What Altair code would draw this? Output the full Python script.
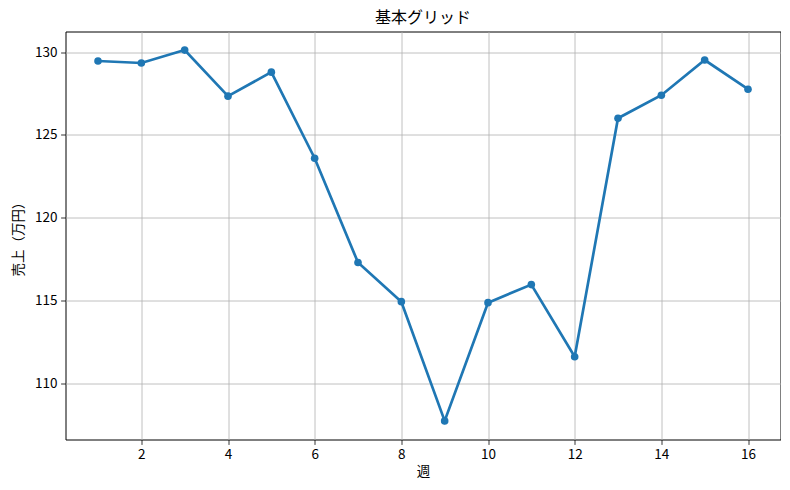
import altair as alt
import pandas as pd

weeks = list(range(1, 17))
sales = [129.46, 129.34, 130.12, 127.34, 128.79, 123.6, 117.31, 114.95,
         107.76, 114.89, 115.98, 111.63, 126.01, 127.40, 129.52, 127.76]

df = pd.DataFrame({"週": weeks, "売上": sales})

FONT = "Noto Sans CJK JP"
BLUE = "#1f77b4"

x = alt.X("週:Q", scale=alt.Scale(domain=[0.25, 16.75], nice=False, zero=False),
          axis=alt.Axis(title="週", values=[2, 4, 6, 8, 10, 12, 14, 16],
                        format="d", titlePadding=3))
y = alt.Y("売上:Q", scale=alt.Scale(domain=[106.64, 131.24], nice=False, zero=False),
          axis=alt.Axis(title="売上（万円）", values=[110, 115, 120, 125, 130],
                        format="d", titlePadding=9))

line = alt.Chart(df).mark_line(color=BLUE, strokeWidth=2.7).encode(x=x, y=y)
pts = alt.Chart(df).mark_point(color=BLUE, filled=True, opacity=1, size=58).encode(x=x, y=y)

chart = alt.layer(line, pts).properties(
    width=715, height=408,
    title=alt.TitleParams("基本グリッド", font=FONT, fontSize=16, fontWeight="normal",
                          color="black", offset=6),
    autosize=alt.AutoSizeParams(type="none"),
    padding={"left": 57.5, "top": 23.5, "right": 0.5, "bottom": 42},
).configure_view(stroke="black", strokeWidth=1).configure_axis(
    grid=True, gridColor="#b0b0b0", gridWidth=0.8,
    domain=False, tickColor="black", tickSize=4.9, tickWidth=0.8,
    labelFont=FONT, labelFontSize=13.5, labelColor="black", labelPadding=3.5,
    titleFont=FONT, titleFontSize=13.5, titleColor="black", titleFontWeight="normal",
)

chart.save("out.html", embed_options={"renderer": "svg", "actions": False})
